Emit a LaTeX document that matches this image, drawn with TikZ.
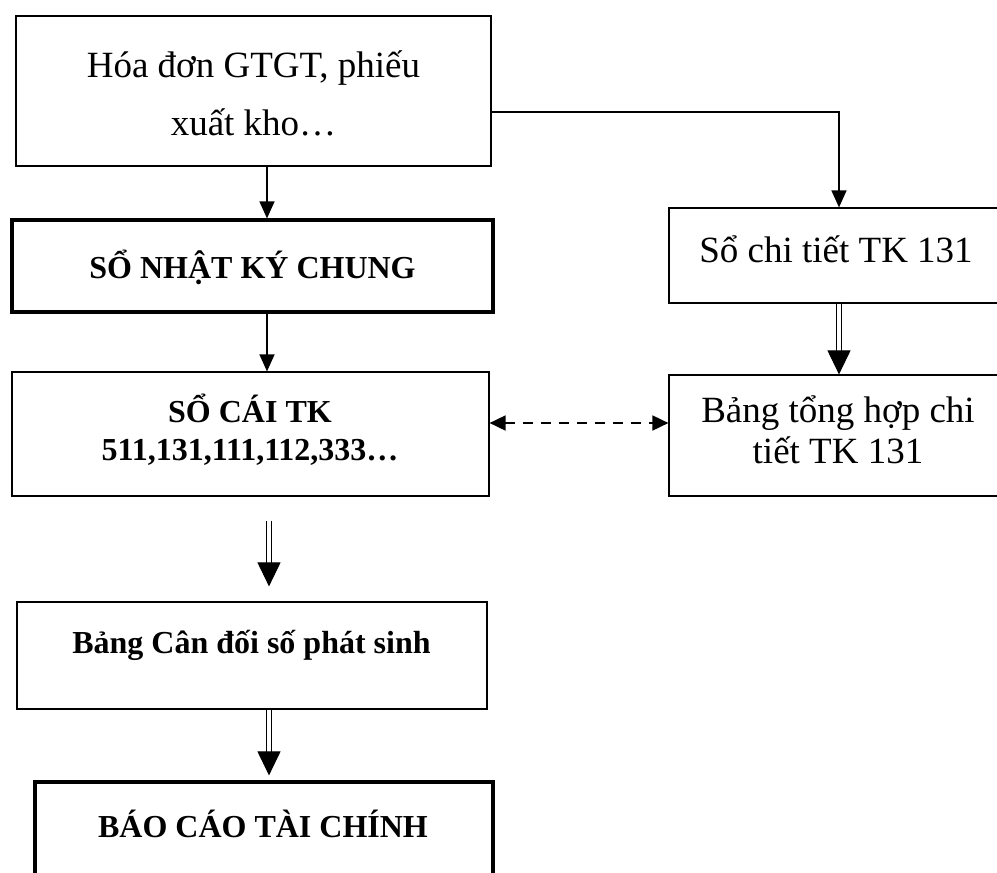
\documentclass[tikz,border=0pt]{standalone}
\usepackage{fontspec}
\setmainfont{Liberation Serif}
\usetikzlibrary{arrows.meta,calc}
\begin{document}
\begin{tikzpicture}[x=1pt,y=-1pt,
  box/.style={draw, rectangle, line width=1.2pt, inner sep=0pt},
  boldbox/.style={box, line width=3.2pt},
  bigtxt/.style={anchor=base, inner sep=0pt, align=center, font=\fontsize{37}{58}\selectfont},
  midtxt/.style={anchor=base, inner sep=0pt, align=center, font=\fontsize{37}{41}\selectfont},
  boldtxt/.style={anchor=base, inner sep=0pt, align=center, font=\fontsize{32}{38}\selectfont\bfseries},
  link/.style={line width=1.4pt, -{Triangle[width=15pt,length=17pt]}},
  dblshaft/.style={double, double distance=3.2pt, line width=1.3pt},
  dblhead/.style={line width=1pt, -{Triangle[width=23pt,length=24pt]}},
  dashlink/.style={line width=1.8pt, dash pattern=on 10pt off 8pt,
    {Triangle[width=15pt,length=16pt]}-{Triangle[width=15pt,length=16pt]}}
]
\useasboundingbox (0,0) rectangle (997,873);
\clip (0,0) rectangle (997,873);

% boxes
\node[box, minimum width=475pt, minimum height=150pt] (top) at (253.5,91) {};
\node[boldbox, minimum width=481pt, minimum height=92pt] (nkc) at (252.5,266) {};
\node[box, minimum width=334pt, minimum height=95pt] (sct) at (836,255.5) {};
\node[box, minimum width=334pt, minimum height=121pt] (btth) at (836,435.5) {};
\node[box, minimum width=477pt, minimum height=124pt] (soc) at (250.5,434) {};
\node[box, minimum width=470pt, minimum height=107pt] (bcd) at (252,655.5) {};
\node[boldbox, minimum width=458pt, minimum height=118pt] (bctc) at (264,841) {};

% texts (base anchor sits on the last line)
\node[bigtxt] (topt) at (253.5,135) {Hóa đơn GTGT, phiếu\\xuất kho…};
\node[boldtxt] (nkct) at (252.5,278) {SỔ NHẬT KÝ CHUNG};
\node[midtxt] (sctt) at (836,262) {Sổ chi tiết TK 131};
\node[midtxt] (bttht) at (838,463) {Bảng tổng hợp chi\\tiết TK 131};
\node[boldtxt] (soct) at (250,460) {SỔ CÁI TK\\511,131,111,112,333…};
\node[boldtxt] (bcdt) at (251.5,653) {Bảng Cân đối số phát sinh};
\node[boldtxt] (bctct) at (263,837) {BÁO CÁO TÀI CHÍNH};

% guide coordinates for the connector columns and rows
\coordinate (colL) at (267,0);
\coordinate (colM) at (269,0);
\coordinate (colR) at (839,0);
\coordinate (tap) at (0,112);
\coordinate (mid) at (0,423);

% single arrows
\draw[link] (top.south -| colL) -- (nkc.north -| colL);
\draw[link] (nkc.south -| colL) -- (soc.north -| colL);
\draw[link] (top.east |- tap) -| (sct.north -| colR);

% two-way dashed link
\draw[dashlink] (soc.east |- mid) -- (btth.west |- mid);

% double arrows
\draw[dblshaft, shorten >=20pt] (sct.south -| colR) -- (btth.north -| colR);
\draw[dblhead] ($(btth.north -| colR)+(0,-12)$) -- (btth.north -| colR);

\draw[dblshaft, shorten <=24pt, shorten >=35pt] (soc.south -| colM) -- (bcd.north -| colM);
\draw[dblhead] ($(bcd.north -| colM)+(0,-27)$) -- ($(bcd.north -| colM)+(0,-15)$);

\draw[dblshaft, shorten >=25pt] (bcd.south -| colM) -- (bctc.north -| colM);
\draw[dblhead] ($(bctc.north -| colM)+(0,-17)$) -- ($(bctc.north -| colM)+(0,-5)$);
\end{tikzpicture}
\end{document}
